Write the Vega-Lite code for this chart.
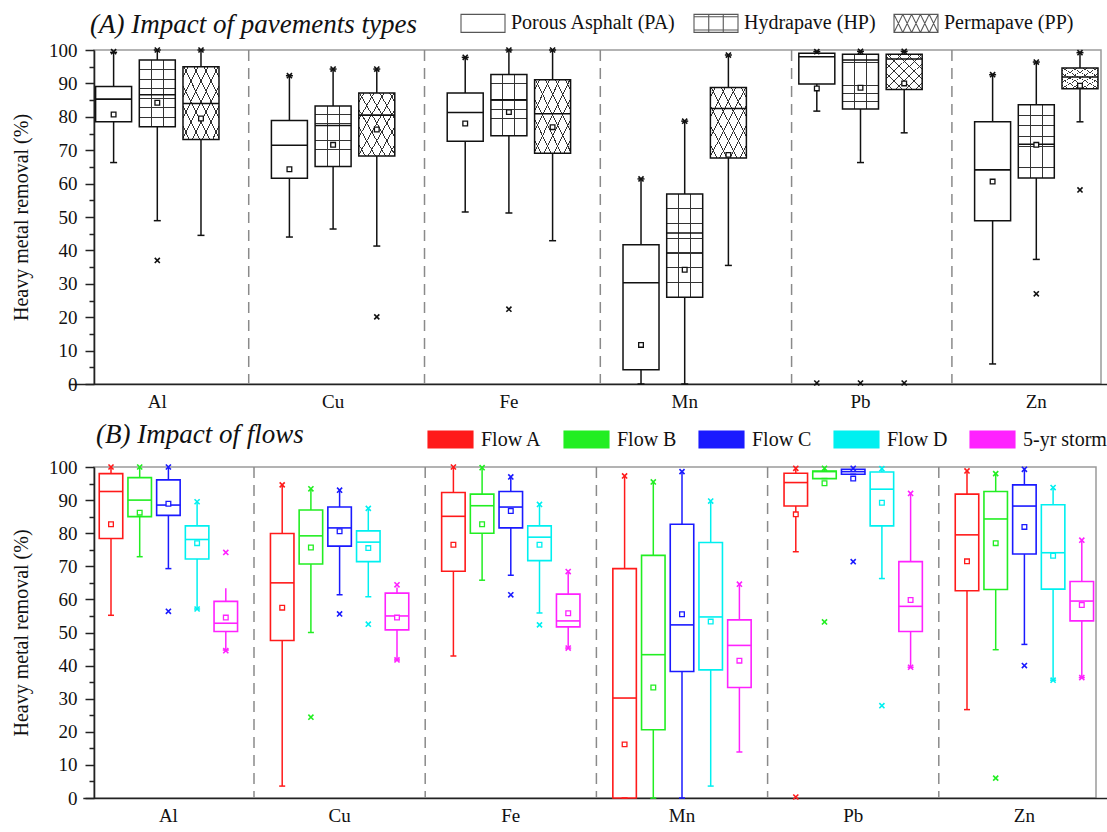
{
 "$schema": "https://vega.github.io/schema/vega-lite/v6.json",
 "background": "white",
 "padding": {"left": 10, "top": 0, "right": 4, "bottom": 4},
 "spacing": 8,
 "config": {
  "font": "Liberation Serif",
  "view": {"stroke": "#9a9a9a", "strokeWidth": 1.5},
  "tick": {"opacity": 1},
  "axis": {"labelFont": "Liberation Serif", "titleFont": "Liberation Serif", "labelColor": "#111", "titleColor": "#111", "domainColor": "#222", "tickColor": "#222", "domainWidth": 1.6, "tickWidth": 1.5, "grid": false, "labelFontSize": 19, "titleFontSize": 20, "titleFontWeight": "normal"},
  "axisX": {"ticks": false, "labelPadding": 8, "labelAngle": 0},
  "axisY": {"tickSize": 9, "labelPadding": 8, "titlePadding": 17},
  "legend": {"labelFont": "Liberation Serif", "labelFontSize": 20, "labelColor": "#111", "labelLimit": 400}
 },
 "datasets": {
  "boxA": [
   {"metal":"Al","type":"Porous Asphalt (PA)","lo":66.3,"q1":78.5,"med":85.3,"q3":89.1,"hi":99.3,"mean":80.7},
   {"metal":"Al","type":"Hydrapave (HP)","lo":48.9,"q1":77,"med":86.6,"q3":97,"hi":100,"mean":84.2},
   {"metal":"Al","type":"Permapave (PP)","lo":44.5,"q1":73.2,"med":84,"q3":95,"hi":100,"mean":79.5},
   {"metal":"Cu","type":"Porous Asphalt (PA)","lo":44,"q1":61.6,"med":71.5,"q3":78.9,"hi":92.3,"mean":64.3},
   {"metal":"Cu","type":"Hydrapave (HP)","lo":46.4,"q1":65.1,"med":77.4,"q3":83.2,"hi":94.3,"mean":71.6},
   {"metal":"Cu","type":"Permapave (PP)","lo":41.3,"q1":68.3,"med":80.5,"q3":87.1,"hi":94.3,"mean":76.2},
   {"metal":"Fe","type":"Porous Asphalt (PA)","lo":51.5,"q1":72.7,"med":81.3,"q3":87.1,"hi":97.8,"mean":78},
   {"metal":"Fe","type":"Hydrapave (HP)","lo":51.2,"q1":74.3,"med":85.1,"q3":92.7,"hi":100,"mean":81.4},
   {"metal":"Fe","type":"Permapave (PP)","lo":42.9,"q1":69.1,"med":80.9,"q3":91.1,"hi":100,"mean":76.9},
   {"metal":"Mn","type":"Porous Asphalt (PA)","lo":0,"q1":4.3,"med":30.3,"q3":41.7,"hi":61.4,"mean":11.7},
   {"metal":"Mn","type":"Hydrapave (HP)","lo":0,"q1":26,"med":45.2,"q3":56.9,"hi":78.7,"mean":34.2},
   {"metal":"Mn","type":"Permapave (PP)","lo":35.5,"q1":67.7,"med":82.5,"q3":88.8,"hi":98.5,"mean":68.6},
   {"metal":"Pb","type":"Porous Asphalt (PA)","lo":81.7,"q1":89.8,"med":98,"q3":99,"hi":99.5,"mean":88.5},
   {"metal":"Pb","type":"Hydrapave (HP)","lo":66.3,"q1":82.3,"med":97,"q3":98.7,"hi":99.6,"mean":88.7},
   {"metal":"Pb","type":"Permapave (PP)","lo":75.2,"q1":88.2,"med":97.3,"q3":98.7,"hi":99.6,"mean":90},
   {"metal":"Zn","type":"Porous Asphalt (PA)","lo":6,"q1":48.9,"med":64.1,"q3":78.5,"hi":92.6,"mean":60.6},
   {"metal":"Zn","type":"Hydrapave (HP)","lo":37.3,"q1":61.7,"med":71.8,"q3":83.6,"hi":96.4,"mean":71.6},
   {"metal":"Zn","type":"Permapave (PP)","lo":78.5,"q1":88.4,"med":91.9,"q3":94.6,"hi":99.2,"mean":89.3}
  ],
  "markA": [
   {"metal":"Al","type":"Porous Asphalt (PA)","v":99.5},
   {"metal":"Al","type":"Hydrapave (HP)","v":100},
   {"metal":"Al","type":"Hydrapave (HP)","v":37},
   {"metal":"Al","type":"Permapave (PP)","v":100},
   {"metal":"Cu","type":"Porous Asphalt (PA)","v":92.3},
   {"metal":"Cu","type":"Hydrapave (HP)","v":94.3},
   {"metal":"Cu","type":"Permapave (PP)","v":94.3},
   {"metal":"Cu","type":"Permapave (PP)","v":20.1},
   {"metal":"Fe","type":"Porous Asphalt (PA)","v":97.8},
   {"metal":"Fe","type":"Hydrapave (HP)","v":100},
   {"metal":"Fe","type":"Hydrapave (HP)","v":22.4},
   {"metal":"Fe","type":"Permapave (PP)","v":100},
   {"metal":"Mn","type":"Porous Asphalt (PA)","v":61.4},
   {"metal":"Mn","type":"Hydrapave (HP)","v":78.7},
   {"metal":"Mn","type":"Permapave (PP)","v":98.5},
   {"metal":"Pb","type":"Porous Asphalt (PA)","v":99.5},
   {"metal":"Pb","type":"Porous Asphalt (PA)","v":0.3},
   {"metal":"Pb","type":"Hydrapave (HP)","v":99.6},
   {"metal":"Pb","type":"Hydrapave (HP)","v":0.3},
   {"metal":"Pb","type":"Permapave (PP)","v":99.6},
   {"metal":"Pb","type":"Permapave (PP)","v":0.3},
   {"metal":"Zn","type":"Porous Asphalt (PA)","v":92.6},
   {"metal":"Zn","type":"Hydrapave (HP)","v":96.4},
   {"metal":"Zn","type":"Hydrapave (HP)","v":27},
   {"metal":"Zn","type":"Permapave (PP)","v":99.2},
   {"metal":"Zn","type":"Permapave (PP)","v":58.1}
  ],
  "boxB": [
   {"metal":"Al","flow":"Flow A","lo":55.2,"q1":78.4,"med":92.6,"q3":98,"hi":100,"mean":82.7},
   {"metal":"Al","flow":"Flow B","lo":72.9,"q1":85,"med":90,"q3":96.8,"hi":100,"mean":86.2},
   {"metal":"Al","flow":"Flow C","lo":69.3,"q1":85.4,"med":88.5,"q3":96.1,"hi":100,"mean":88.9},
   {"metal":"Al","flow":"Flow D","lo":57.1,"q1":72.2,"med":78.1,"q3":82.2,"hi":89.5,"mean":77},
   {"metal":"Al","flow":"5-yr storm","lo":44.7,"q1":50.3,"med":52.8,"q3":59.4,"hi":63.4,"mean":54.5},
   {"metal":"Cu","flow":"Flow A","lo":3.6,"q1":47.6,"med":65,"q3":79.9,"hi":94.6,"mean":57.5},
   {"metal":"Cu","flow":"Flow B","lo":50,"q1":70.7,"med":79.2,"q3":87,"hi":93.4,"mean":75.7},
   {"metal":"Cu","flow":"Flow C","lo":61.4,"q1":76.1,"med":81.6,"q3":87.9,"hi":93,"mean":80.6},
   {"metal":"Cu","flow":"Flow D","lo":60.8,"q1":71.4,"med":77.3,"q3":80.7,"hi":87.5,"mean":75.5},
   {"metal":"Cu","flow":"5-yr storm","lo":41.7,"q1":50.8,"med":55,"q3":61.9,"hi":63.6,"mean":54.5},
   {"metal":"Fe","flow":"Flow A","lo":42.9,"q1":68.5,"med":85.1,"q3":92.3,"hi":100,"mean":76.5},
   {"metal":"Fe","flow":"Flow B","lo":65.8,"q1":80,"med":88.3,"q3":91.8,"hi":100,"mean":82.7},
   {"metal":"Fe","flow":"Flow C","lo":67.3,"q1":81.6,"med":87.9,"q3":92.6,"hi":97,"mean":86.7},
   {"metal":"Fe","flow":"Flow D","lo":55.9,"q1":71.7,"med":78.8,"q3":82.2,"hi":88.7,"mean":76.5},
   {"metal":"Fe","flow":"5-yr storm","lo":45.3,"q1":51.7,"med":53.5,"q3":61.6,"hi":68.4,"mean":55.8},
   {"metal":"Mn","flow":"Flow A","lo":0,"q1":0,"med":30.2,"q3":69.3,"hi":97.3,"mean":16.2},
   {"metal":"Mn","flow":"Flow B","lo":0,"q1":20.6,"med":43.3,"q3":73.3,"hi":95.5,"mean":33.4},
   {"metal":"Mn","flow":"Flow C","lo":0,"q1":38.2,"med":52.3,"q3":82.7,"hi":98.6,"mean":55.5},
   {"metal":"Mn","flow":"Flow D","lo":3.6,"q1":38.7,"med":54.7,"q3":77.2,"hi":89.7,"mean":53.3},
   {"metal":"Mn","flow":"5-yr storm","lo":13.9,"q1":33.4,"med":46.1,"q3":53.8,"hi":64.6,"mean":41.5},
   {"metal":"Pb","flow":"Flow A","lo":74.4,"q1":88.2,"med":95.3,"q3":98.1,"hi":99.6,"mean":85.7},
   {"metal":"Pb","flow":"Flow B","lo":96.5,"q1":96.5,"med":98.6,"q3":98.8,"hi":99.6,"mean":95.1},
   {"metal":"Pb","flow":"Flow C","lo":97.8,"q1":97.8,"med":98.6,"q3":99.3,"hi":99.6,"mean":96.5},
   {"metal":"Pb","flow":"Flow D","lo":66.3,"q1":82.2,"med":93.3,"q3":98.5,"hi":99.5,"mean":89.2},
   {"metal":"Pb","flow":"5-yr storm","lo":39.5,"q1":50.3,"med":57.9,"q3":71.4,"hi":92,"mean":59.8},
   {"metal":"Zn","flow":"Flow A","lo":26.7,"q1":62.6,"med":79.5,"q3":91.8,"hi":98.8,"mean":71.5},
   {"metal":"Zn","flow":"Flow B","lo":44.8,"q1":63,"med":84.3,"q3":92.6,"hi":98,"mean":77},
   {"metal":"Zn","flow":"Flow C","lo":46.4,"q1":73.7,"med":88.2,"q3":94.6,"hi":99.3,"mean":81.9},
   {"metal":"Zn","flow":"Flow D","lo":35.6,"q1":63.1,"med":74.1,"q3":88.6,"hi":93.8,"mean":73.2},
   {"metal":"Zn","flow":"5-yr storm","lo":36.4,"q1":53.5,"med":59.5,"q3":65.4,"hi":77.9,"mean":58.3}
  ],
  "markB": [
   {"metal":"Al","flow":"Flow A","v":100},{"metal":"Al","flow":"Flow B","v":100},{"metal":"Al","flow":"Flow C","v":100},{"metal":"Al","flow":"Flow C","v":56.4},
   {"metal":"Al","flow":"Flow D","v":89.5},{"metal":"Al","flow":"Flow D","v":57.1},{"metal":"Al","flow":"5-yr storm","v":74.2},{"metal":"Al","flow":"5-yr storm","v":44.5},
   {"metal":"Cu","flow":"Flow A","v":94.6},{"metal":"Cu","flow":"Flow B","v":93.4},{"metal":"Cu","flow":"Flow B","v":24.4},{"metal":"Cu","flow":"Flow C","v":93},{"metal":"Cu","flow":"Flow C","v":55.6},
   {"metal":"Cu","flow":"Flow D","v":87.5},{"metal":"Cu","flow":"Flow D","v":52.5},{"metal":"Cu","flow":"5-yr storm","v":64.4},{"metal":"Cu","flow":"5-yr storm","v":41.7},
   {"metal":"Fe","flow":"Flow A","v":100},{"metal":"Fe","flow":"Flow B","v":99.8},{"metal":"Fe","flow":"Flow C","v":97},{"metal":"Fe","flow":"Flow C","v":61.4},
   {"metal":"Fe","flow":"Flow D","v":88.7},{"metal":"Fe","flow":"Flow D","v":52.3},{"metal":"Fe","flow":"5-yr storm","v":68.4},{"metal":"Fe","flow":"5-yr storm","v":45.3},
   {"metal":"Mn","flow":"Flow A","v":97.3},{"metal":"Mn","flow":"Flow B","v":95.5},{"metal":"Mn","flow":"Flow C","v":98.6},{"metal":"Mn","flow":"Flow D","v":89.7},{"metal":"Mn","flow":"5-yr storm","v":64.6},
   {"metal":"Pb","flow":"Flow A","v":99.6},{"metal":"Pb","flow":"Flow A","v":0.3},{"metal":"Pb","flow":"Flow B","v":99.6},{"metal":"Pb","flow":"Flow B","v":53.2},
   {"metal":"Pb","flow":"Flow C","v":99.6},{"metal":"Pb","flow":"Flow C","v":71.4},{"metal":"Pb","flow":"Flow D","v":99.5},{"metal":"Pb","flow":"Flow D","v":27.9},
   {"metal":"Pb","flow":"5-yr storm","v":92},{"metal":"Pb","flow":"5-yr storm","v":39.5},
   {"metal":"Zn","flow":"Flow A","v":98.8},{"metal":"Zn","flow":"Flow B","v":98},{"metal":"Zn","flow":"Flow B","v":6},{"metal":"Zn","flow":"Flow C","v":99.3},{"metal":"Zn","flow":"Flow C","v":40},
   {"metal":"Zn","flow":"Flow D","v":93.8},{"metal":"Zn","flow":"Flow D","v":35.6},{"metal":"Zn","flow":"5-yr storm","v":77.9},{"metal":"Zn","flow":"5-yr storm","v":36.4}
  ],
  "seps": [{"metal":"Cu"},{"metal":"Fe"},{"metal":"Mn"},{"metal":"Pb"},{"metal":"Zn"}]
 },
 "resolve": {"scale": {"x": "independent", "y": "independent", "xOffset": "independent"}},
 "vconcat": [
  {
   "title": {"text": "(A) Impact of pavements types", "anchor": "start", "frame": "group", "font": "Liberation Serif", "fontSize": 27, "fontStyle": "italic", "fontWeight": "normal", "color": "#111", "offset": 2, "dx": -4},
   "width": 1007,
   "height": 334,
   "encoding": {
    "x": {"field": "metal", "type": "nominal", "scale": {"domain": ["Al","Cu","Fe","Mn","Pb","Zn"], "range": [-24.6, 1030.2], "paddingInner": 0, "paddingOuter": 0}, "axis": {"title": null, "labelFont": "Liberation Serif", "labelFontSize": 19}},
    "xOffset": {"field": "type", "type": "nominal", "scale": {"domain": ["Porous Asphalt (PA)","Hydrapave (HP)","Permapave (PP)"], "paddingInner": 0.176, "paddingOuter": 0.6}}
   },
   "layer": [
    {
     "data": {"name": "seps"},
     "transform": [{"filter": "datum.metal !== 'Pb'"}],
     "mark": {"type": "rule", "color": "#8a8a8a", "strokeWidth": 1.5, "strokeDash": [11, 7]},
     "encoding": {"x": {"field": "metal", "type": "nominal", "bandPosition": 0.02}, "xOffset": null}
    },
    {
     "data": {"name": "seps"},
     "transform": [{"filter": "datum.metal === 'Pb'"}],
     "mark": {"type": "rule", "color": "#8a8a8a", "strokeWidth": 1.5, "strokeDash": [11, 7]},
     "encoding": {"x": {"field": "metal", "type": "nominal", "bandPosition": 0.108}, "xOffset": null}
    },
    {
     "data": {"name": "boxA"},
     "mark": {"type": "point", "filled": false, "color": "#111", "strokeWidth": 1.1},
     "encoding": {
      "y": {"field": "med", "type": "quantitative", "scale": {"domain": [0, 100], "nice": false}, "axis": null},
      "shape": {"field": "type", "type": "nominal", "scale": {"domain": ["Porous Asphalt (PA)","Hydrapave (HP)","Permapave (PP)"], "range": [
        "M-1,-0.41H1V0.41H-1Z",
        "M-1,-0.41H1V0.41H-1Z M-0.33,-0.41V0.41 M0.33,-0.41V0.41 M-1,-0.3H1 M-1,0.3H1",
        "M-1,-0.41H1V0.41H-1Z M-1,-0.41L-0.6,0.41 M-1,0.41L-0.6,-0.41 M-0.6,-0.41L-0.2,0.41 M-0.6,0.41L-0.2,-0.41 M-0.2,-0.41L0.2,0.41 M-0.2,0.41L0.2,-0.41 M0.2,-0.41L0.6,0.41 M0.2,0.41L0.6,-0.41 M0.6,-0.41L1,0.41 M0.6,0.41L1,-0.41"
       ]},
       "legend": {"orient": "none", "legendX": 366, "legendY": -50, "direction": "horizontal", "title": null, "symbolSize": 1936, "symbolStrokeColor": "#111", "symbolStrokeWidth": 1.1, "labelOffset": 5, "columnPadding": 15, "labelFontSize": 20, "labelLimit": 400, "labelFont": "Liberation Serif"}
      }
     }
    },
    {
     "data": {"name": "boxA"},
     "mark": {"type": "rule", "color": "#111", "strokeWidth": 1.5},
     "encoding": {
      "y": {"field": "lo", "type": "quantitative", "scale": {"domain": [0, 100], "nice": false}, "axis": {"values": [5,15,25,35,45,55,65,75,85,95], "labels": false, "domain": false, "tickSize": 5, "title": null, "orient": "left"}},
      "y2": {"field": "hi"}
     }
    },
    {
     "data": {"name": "boxA"},
     "mark": {"type": "tick", "color": "#111", "size": 7, "thickness": 1.5, "opacity": 1},
     "encoding": {"y": {"field": "lo", "type": "quantitative", "scale": {"domain": [0, 100], "nice": false}, "axis": null}}
    },
    {
     "data": {"name": "boxA"},
     "mark": {"type": "tick", "color": "#111", "size": 7, "thickness": 1.5, "opacity": 1},
     "encoding": {"y": {"field": "hi", "type": "quantitative", "scale": {"domain": [0, 100], "nice": false}, "axis": null}}
    },
    {
     "data": {"name": "boxA"},
     "mark": {"type": "bar", "fill": "white"},
     "encoding": {
      "y": {"field": "q1", "type": "quantitative", "scale": {"domain": [0, 100], "nice": false}, "axis": {"values": [0,10,20,30,40,50,60,70,80,90,100], "title": "Heavy metal removal (%)", "orient": "left", "labelFont": "Liberation Serif", "titleFont": "Liberation Serif"}},
      "y2": {"field": "q3"}
     }
    },
    {
     "data": {"name": "boxA"},
     "transform": [{"filter": "datum.type === 'Hydrapave (HP)'"}],
     "mark": {"type": "bar", "fill": {"gradient": "linear", "x1": 0, "y1": 0, "x2": 1, "y2": 0, "stops": [
       {"offset": 0, "color": "rgba(255,255,255,0)"}, {"offset": 0.322, "color": "rgba(255,255,255,0)"}, {"offset": 0.322, "color": "#333"}, {"offset": 0.348, "color": "#333"}, {"offset": 0.348, "color": "rgba(255,255,255,0)"},
       {"offset": 0.652, "color": "rgba(255,255,255,0)"}, {"offset": 0.652, "color": "#333"}, {"offset": 0.678, "color": "#333"}, {"offset": 0.678, "color": "rgba(255,255,255,0)"}, {"offset": 1, "color": "rgba(255,255,255,0)"}]}},
     "encoding": {"y": {"field": "q1", "type": "quantitative", "scale": {"domain": [0, 100], "nice": false}, "axis": null}, "y2": {"field": "q3"}}
    },
    {
     "data": {"name": "boxA"},
     "transform": [{"filter": "datum.type === 'Hydrapave (HP)'"}],
     "mark": {"type": "bar", "fill": {"gradient": "linear", "x1": 0, "y1": 0, "x2": 0, "y2": 1, "stops": [
       {"offset": 0, "color": "rgba(255,255,255,0)"},
       {"offset": 0.137, "color": "rgba(255,255,255,0)"}, {"offset": 0.137, "color": "#333"}, {"offset": 0.149, "color": "#333"}, {"offset": 0.149, "color": "rgba(255,255,255,0)"},
       {"offset": 0.280, "color": "rgba(255,255,255,0)"}, {"offset": 0.280, "color": "#333"}, {"offset": 0.292, "color": "#333"}, {"offset": 0.292, "color": "rgba(255,255,255,0)"},
       {"offset": 0.423, "color": "rgba(255,255,255,0)"}, {"offset": 0.423, "color": "#333"}, {"offset": 0.435, "color": "#333"}, {"offset": 0.435, "color": "rgba(255,255,255,0)"},
       {"offset": 0.565, "color": "rgba(255,255,255,0)"}, {"offset": 0.565, "color": "#333"}, {"offset": 0.577, "color": "#333"}, {"offset": 0.577, "color": "rgba(255,255,255,0)"},
       {"offset": 0.708, "color": "rgba(255,255,255,0)"}, {"offset": 0.708, "color": "#333"}, {"offset": 0.720, "color": "#333"}, {"offset": 0.720, "color": "rgba(255,255,255,0)"},
       {"offset": 0.851, "color": "rgba(255,255,255,0)"}, {"offset": 0.851, "color": "#333"}, {"offset": 0.863, "color": "#333"}, {"offset": 0.863, "color": "rgba(255,255,255,0)"},
       {"offset": 1, "color": "rgba(255,255,255,0)"}]}},
     "encoding": {"y": {"field": "q1", "type": "quantitative", "scale": {"domain": [0, 100], "nice": false}, "axis": null}, "y2": {"field": "q3"}}
    },
    {
     "data": {"name": "boxA"},
     "transform": [{"filter": "datum.type === 'Permapave (PP)'"}],
     "mark": {"type": "bar", "fill": {"gradient": "linear", "x1": 0, "y1": 0, "x2": 1, "y2": 1, "stops": [
       {"offset": 0, "color": "rgba(255,255,255,0)"},
       {"offset": 0.063, "color": "rgba(255,255,255,0)"}, {"offset": 0.063, "color": "#333"}, {"offset": 0.077, "color": "#333"}, {"offset": 0.077, "color": "rgba(255,255,255,0)"},
       {"offset": 0.203, "color": "rgba(255,255,255,0)"}, {"offset": 0.203, "color": "#333"}, {"offset": 0.217, "color": "#333"}, {"offset": 0.217, "color": "rgba(255,255,255,0)"},
       {"offset": 0.343, "color": "rgba(255,255,255,0)"}, {"offset": 0.343, "color": "#333"}, {"offset": 0.357, "color": "#333"}, {"offset": 0.357, "color": "rgba(255,255,255,0)"},
       {"offset": 0.483, "color": "rgba(255,255,255,0)"}, {"offset": 0.483, "color": "#333"}, {"offset": 0.497, "color": "#333"}, {"offset": 0.497, "color": "rgba(255,255,255,0)"},
       {"offset": 0.623, "color": "rgba(255,255,255,0)"}, {"offset": 0.623, "color": "#333"}, {"offset": 0.637, "color": "#333"}, {"offset": 0.637, "color": "rgba(255,255,255,0)"},
       {"offset": 0.763, "color": "rgba(255,255,255,0)"}, {"offset": 0.763, "color": "#333"}, {"offset": 0.777, "color": "#333"}, {"offset": 0.777, "color": "rgba(255,255,255,0)"},
       {"offset": 0.903, "color": "rgba(255,255,255,0)"}, {"offset": 0.903, "color": "#333"}, {"offset": 0.917, "color": "#333"}, {"offset": 0.917, "color": "rgba(255,255,255,0)"},
       {"offset": 1, "color": "rgba(255,255,255,0)"}]}},
     "encoding": {"y": {"field": "q1", "type": "quantitative", "scale": {"domain": [0, 100], "nice": false}, "axis": null}, "y2": {"field": "q3"}}
    },
    {
     "data": {"name": "boxA"},
     "transform": [{"filter": "datum.type === 'Permapave (PP)'"}],
     "mark": {"type": "bar", "fill": {"gradient": "linear", "x1": 1, "y1": 0, "x2": 0, "y2": 1, "stops": [
       {"offset": 0, "color": "rgba(255,255,255,0)"},
       {"offset": 0.063, "color": "rgba(255,255,255,0)"}, {"offset": 0.063, "color": "#333"}, {"offset": 0.077, "color": "#333"}, {"offset": 0.077, "color": "rgba(255,255,255,0)"},
       {"offset": 0.203, "color": "rgba(255,255,255,0)"}, {"offset": 0.203, "color": "#333"}, {"offset": 0.217, "color": "#333"}, {"offset": 0.217, "color": "rgba(255,255,255,0)"},
       {"offset": 0.343, "color": "rgba(255,255,255,0)"}, {"offset": 0.343, "color": "#333"}, {"offset": 0.357, "color": "#333"}, {"offset": 0.357, "color": "rgba(255,255,255,0)"},
       {"offset": 0.483, "color": "rgba(255,255,255,0)"}, {"offset": 0.483, "color": "#333"}, {"offset": 0.497, "color": "#333"}, {"offset": 0.497, "color": "rgba(255,255,255,0)"},
       {"offset": 0.623, "color": "rgba(255,255,255,0)"}, {"offset": 0.623, "color": "#333"}, {"offset": 0.637, "color": "#333"}, {"offset": 0.637, "color": "rgba(255,255,255,0)"},
       {"offset": 0.763, "color": "rgba(255,255,255,0)"}, {"offset": 0.763, "color": "#333"}, {"offset": 0.777, "color": "#333"}, {"offset": 0.777, "color": "rgba(255,255,255,0)"},
       {"offset": 0.903, "color": "rgba(255,255,255,0)"}, {"offset": 0.903, "color": "#333"}, {"offset": 0.917, "color": "#333"}, {"offset": 0.917, "color": "rgba(255,255,255,0)"},
       {"offset": 1, "color": "rgba(255,255,255,0)"}]}},
     "encoding": {"y": {"field": "q1", "type": "quantitative", "scale": {"domain": [0, 100], "nice": false}, "axis": null}, "y2": {"field": "q3"}}
    },
    {
     "data": {"name": "boxA"},
     "mark": {"type": "bar", "fill": "transparent", "stroke": "#111", "strokeWidth": 1.5},
     "encoding": {"y": {"field": "q1", "type": "quantitative", "scale": {"domain": [0, 100], "nice": false}, "axis": null}, "y2": {"field": "q3"}}
    },
    {
     "data": {"name": "boxA"},
     "mark": {"type": "tick", "color": "#111", "size": 36, "thickness": 1.6, "opacity": 1},
     "encoding": {"y": {"field": "med", "type": "quantitative", "scale": {"domain": [0, 100], "nice": false}, "axis": null}}
    },
    {
     "data": {"name": "boxA"},
     "mark": {"type": "point", "shape": "square", "size": 22, "filled": true, "fill": "white", "stroke": "#111", "strokeWidth": 1.3, "opacity": 1},
     "encoding": {"y": {"field": "mean", "type": "quantitative", "scale": {"domain": [0, 100], "nice": false}, "axis": null}}
    },
    {
     "data": {"name": "markA"},
     "mark": {"type": "point", "shape": "M-1,-1L1,1M-1,1L1,-1", "size": 26, "filled": false, "stroke": "#111", "strokeWidth": 1.6, "opacity": 1},
     "encoding": {"y": {"field": "v", "type": "quantitative", "scale": {"domain": [0, 100], "nice": false}, "axis": null}}
    }
   ],
   "resolve": {"axis": {"y": "independent"}}
  },
  {
   "title": {"text": "(B) Impact of flows", "anchor": "start", "frame": "group", "font": "Liberation Serif", "fontSize": 27, "fontStyle": "italic", "fontWeight": "normal", "color": "#111", "offset": 9, "dx": 2},
   "width": 1002,
   "height": 331,
   "encoding": {
    "x": {"field": "metal", "type": "nominal", "scale": {"domain": ["Al","Cu","Fe","Mn","Pb","Zn"], "range": [-11.2, 1016], "paddingInner": 0, "paddingOuter": 0}, "axis": {"title": null, "labelFont": "Liberation Serif", "labelFontSize": 19}},
    "xOffset": {"field": "flow", "type": "nominal", "scale": {"domain": ["Flow A","Flow B","Flow C","Flow D","5-yr storm"], "paddingInner": 0.181, "paddingOuter": 0.573}}
   },
   "layer": [
    {
     "data": {"name": "seps"},
     "mark": {"type": "rule", "color": "#8a8a8a", "strokeWidth": 1.5, "strokeDash": [11, 7]},
     "encoding": {"x": {"field": "metal", "type": "nominal", "bandPosition": 0}, "xOffset": null}
    },
    {
     "data": {"name": "boxB"},
     "mark": {"type": "bar", "fill": "white", "strokeWidth": 1.6},
     "encoding": {
      "y": {"field": "q1", "type": "quantitative", "scale": {"domain": [0, 100], "nice": false}, "axis": {"values": [0,10,20,30,40,50,60,70,80,90,100], "title": "Heavy metal removal (%)", "orient": "left", "labelFont": "Liberation Serif", "titleFont": "Liberation Serif"}},
      "y2": {"field": "q3"},
      "stroke": {"field": "flow", "type": "nominal", "scale": {"domain": ["Flow A","Flow B","Flow C","Flow D","5-yr storm"], "range": ["#ff1a1a","#22ee22","#1a1aff","#00f0f0","#ff22ff"]},
       "legend": {"orient": "none", "legendX": 333, "legendY": 366, "direction": "horizontal", "title": null, "symbolType": "M-1,-0.37H1V0.37H-1Z", "symbolSize": 1980, "symbolFillColor": "white", "symbolStrokeWidth": 1.6, "labelOffset": 7, "columnPadding": 19, "labelFontSize": 20, "labelFont": "Liberation Serif"}}
     }
    },
    {
     "data": {"name": "boxB"},
     "mark": {"type": "rule", "strokeWidth": 1.5},
     "encoding": {
      "y": {"field": "lo", "type": "quantitative", "scale": {"domain": [0, 100], "nice": false}, "axis": {"values": [5,15,25,35,45,55,65,75,85,95], "labels": false, "domain": false, "tickSize": 5, "title": null, "orient": "left"}},
      "y2": {"field": "q1"},
      "stroke": {"field": "flow", "type": "nominal"}
     }
    },
    {
     "data": {"name": "boxB"},
     "mark": {"type": "rule", "strokeWidth": 1.5},
     "encoding": {
      "y": {"field": "q3", "type": "quantitative", "scale": {"domain": [0, 100], "nice": false}, "axis": null},
      "y2": {"field": "hi"},
      "stroke": {"field": "flow", "type": "nominal"}
     }
    },
    {
     "data": {"name": "boxB"},
     "mark": {"type": "tick", "size": 6, "thickness": 1.5, "opacity": 1},
     "encoding": {"y": {"field": "lo", "type": "quantitative", "scale": {"domain": [0, 100], "nice": false}, "axis": null},
      "color": {"field": "flow", "type": "nominal", "scale": {"domain": ["Flow A","Flow B","Flow C","Flow D","5-yr storm"], "range": ["#ff1a1a","#22ee22","#1a1aff","#00f0f0","#ff22ff"]}, "legend": null}}
    },
    {
     "data": {"name": "boxB"},
     "mark": {"type": "tick", "size": 23.5, "thickness": 1.6, "opacity": 1},
     "encoding": {"y": {"field": "med", "type": "quantitative", "scale": {"domain": [0, 100], "nice": false}, "axis": null},
      "color": {"field": "flow", "type": "nominal", "legend": null}}
    },
    {
     "data": {"name": "boxB"},
     "mark": {"type": "point", "shape": "square", "size": 22, "filled": true, "fill": "white", "strokeWidth": 1.3, "opacity": 1},
     "encoding": {"y": {"field": "mean", "type": "quantitative", "scale": {"domain": [0, 100], "nice": false}, "axis": null},
      "stroke": {"field": "flow", "type": "nominal"}}
    },
    {
     "data": {"name": "markB"},
     "mark": {"type": "point", "shape": "M-1,-1L1,1M-1,1L1,-1", "size": 26, "filled": false, "strokeWidth": 1.6, "opacity": 1},
     "encoding": {"y": {"field": "v", "type": "quantitative", "scale": {"domain": [0, 100], "nice": false}, "axis": null},
      "stroke": {"field": "flow", "type": "nominal"}}
    }
   ],
   "resolve": {"axis": {"y": "independent"}}
  }
 ]
}
